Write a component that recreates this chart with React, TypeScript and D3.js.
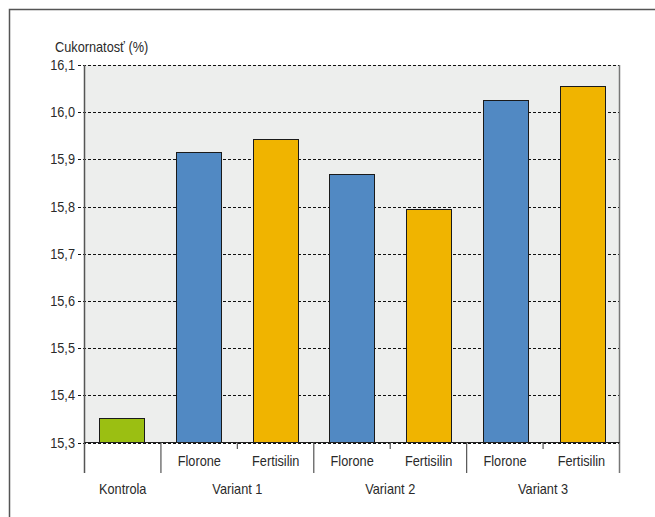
import React from "react";
import * as d3 from "d3";

const categories = ["Kontrola", "V1 Florone", "V1 Fertisilin", "V2 Florone", "V2 Fertisilin", "V3 Florone", "V3 Fertisilin"];
const subLabels = ["", "Florone", "Fertisilin", "Florone", "Fertisilin", "Florone", "Fertisilin"];
const values = [15.352, 15.915, 15.944, 15.87, 15.794, 16.025, 16.055];
const barKinds = ["kontrola", "florone", "fertisilin", "florone", "fertisilin", "florone", "fertisilin"];
const groups = [
  { label: "Kontrola", from: 0, to: 0 },
  { label: "Variant 1", from: 1, to: 2 },
  { label: "Variant 2", from: 3, to: 4 },
  { label: "Variant 3", from: 5, to: 6 },
];
const yTicks = [15.3, 15.4, 15.5, 15.6, 15.7, 15.8, 15.9, 16.0, 16.1];
const yTitle = "Cukornatosť (%)";

const colors: Record<string, string> = {
  kontrola: "#9bbf12",
  florone: "#5189c3",
  fertisilin: "#f0b400",
};

const W = 655;
const H = 517;
const left = 84.5;
const right = 619.5;
const top = 65;
const bottom = 442.5;
const font = "'Liberation Sans', Arial, sans-serif";
const SX = 0.91;

function NText(props: { x: number; y: number; anchor?: string; dy?: string; children: React.ReactNode }) {
  return (
    <text
      transform={`translate(${props.x},${props.y}) scale(${SX},1)`}
      textAnchor={props.anchor || "start"}
      dy={props.dy}
      fontSize={14}
      fill="#2a2a2a"
    >
      {props.children}
    </text>
  );
}

export default function App() {
  const x = d3.scaleBand<string>().domain(categories).range([left, right]).paddingInner(0.41).paddingOuter(0.19);
  const y = d3.scaleLinear().domain([15.3, 16.1]).range([bottom, top]);
  const step = x.step();
  const slotLeft = (i: number) => left + (right - left) * (i / categories.length);
  const fmt = (v: number) => v.toFixed(1).replace(".", ",");

  return (
    <svg width={W} height={H} style={{ position: "absolute", left: 0, top: 0, background: "#fff" }} fontFamily={font}>
      <rect x={9.5} y={9.5} width={W + 10} height={H + 10} fill="none" stroke="#555" strokeWidth={1.5} />
      <rect x={left} y={top} width={right - left} height={bottom - top} fill="#edeeed" />
      {yTicks.map((t) => (
        <g key={t}>
          <line x1={78} x2={right} y1={Math.round(y(t)) + 0.5} y2={Math.round(y(t)) + 0.5} stroke="#111" strokeDasharray="3,2" strokeWidth={1} />
          <NText x={75} y={y(t)} dy="0.36em" anchor="end">{fmt(t)}</NText>
        </g>
      ))}
      {categories.map((c, i) => (
        <rect
          key={c}
          x={Math.round(x(c)!) + 0.5}
          y={Math.round(y(values[i])) + 0.5}
          width={Math.round(x.bandwidth())}
          height={bottom - Math.round(y(values[i])) - 0.5}
          fill={colors[barKinds[i]]}
          stroke="#1a1a1a"
          strokeWidth={1}
        />
      ))}
      <line x1={left} x2={left} y1={top} y2={473} stroke="#555" strokeWidth={1.5} />
      <line x1={right} x2={right} y1={top} y2={473} stroke="#777" strokeWidth={1.5} />
      <line x1={left} x2={right} y1={bottom} y2={bottom} stroke="#222" strokeWidth={1} />
      {categories.map((c, i) => {
        if (i === 0) return null;
        const isGroupStart = groups.some((g) => g.from === i);
        return (
          <line key={"sep" + c} x1={slotLeft(i)} x2={slotLeft(i)} y1={bottom} y2={isGroupStart ? 473 : 449} stroke="#555" strokeWidth={1.2} />
        );
      })}
      {categories.map((c, i) =>
        subLabels[i] ? (
          <NText key={"sl" + c} x={slotLeft(i) + step / 2} y={466} anchor="middle">{subLabels[i]}</NText>
        ) : null
      )}
      {groups.map((g) => (
        <NText key={g.label} x={(slotLeft(g.from) + slotLeft(g.to + 1)) / 2} y={494} anchor="middle">{g.label}</NText>
      ))}
      <NText x={55} y={52}>{yTitle}</NText>
    </svg>
  );
}
